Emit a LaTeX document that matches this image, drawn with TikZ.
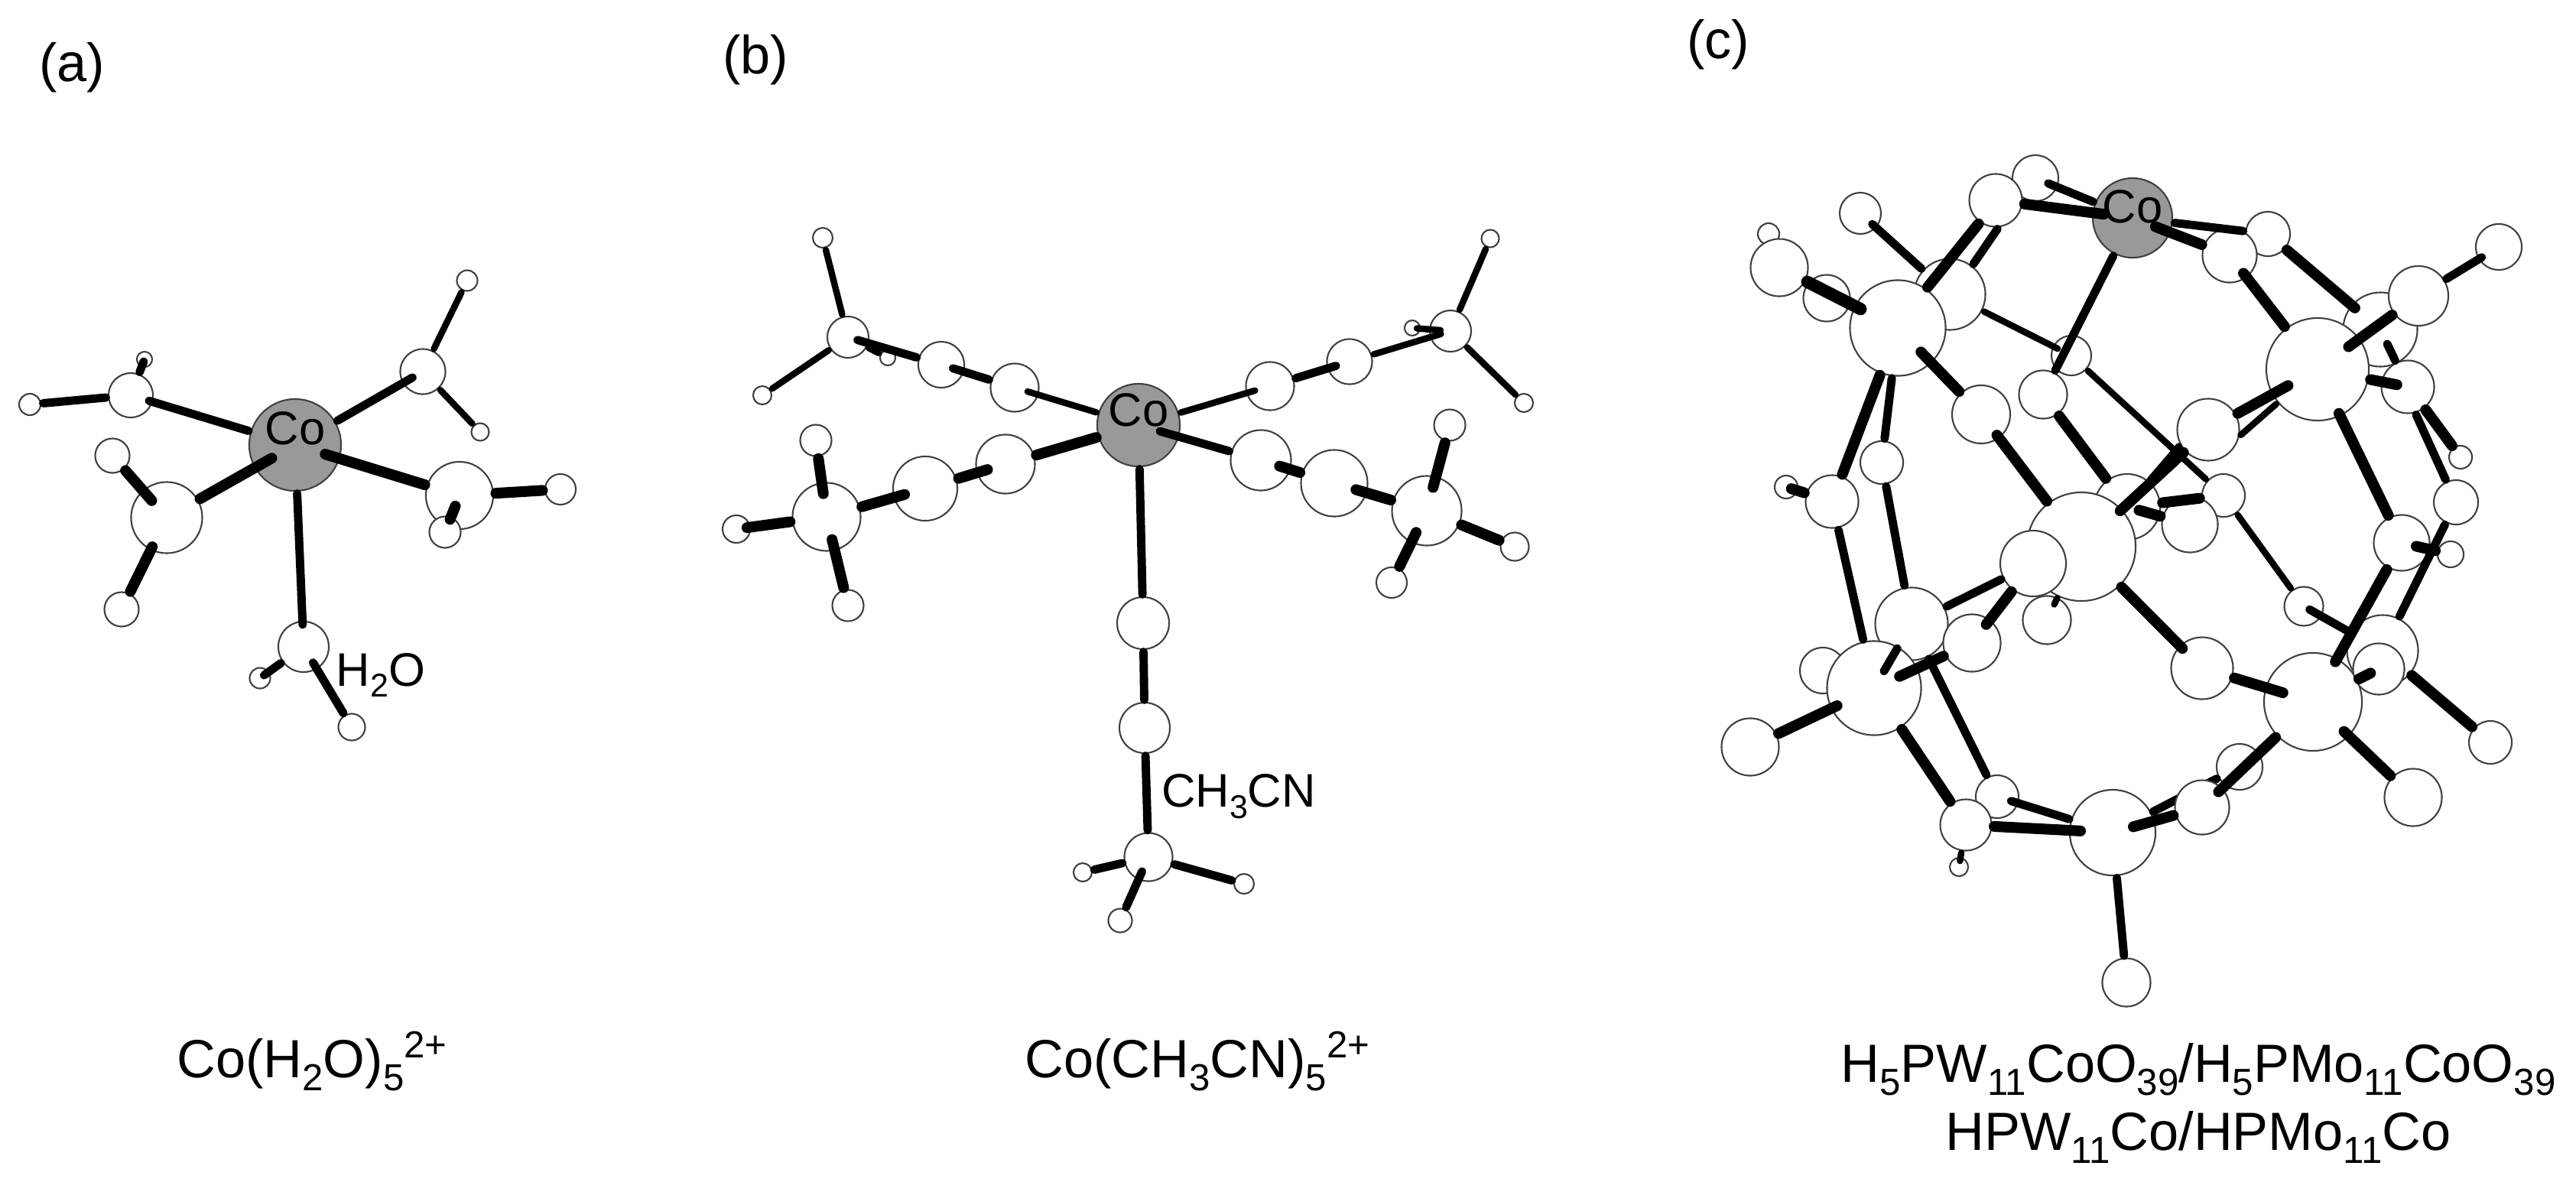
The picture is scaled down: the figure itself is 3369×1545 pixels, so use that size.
\documentclass[tikz,border=0pt]{standalone}
\usepackage{fontspec}
\setmainfont{Liberation Sans}
\tikzset{%
	atom/.style     = {draw=black!75, fill=white, circle, line width=0.6pt, inner sep=0pt},
	metal/.style    = {atom, fill=black!40, minimum size=#1},
	bond/.style     = {draw=black, line width=3.1pt, line cap=round, shorten <=0.25mm, shorten >=0.25mm},
	bondthin/.style = {bond, line width=2.4pt},
	bondfat/.style  = {bond, line width=4pt},
	endin/.style    = {shorten >=-#1},
	startin/.style  = {shorten <=-#1},
	panel/.style    = {font=\fontsize{20}{24}\selectfont, inner sep=0pt},
	tag/.style      = {font=\fontsize{17.5}{20}\selectfont, inner sep=0pt},
}
\newcommand{\low}[1]{\raisebox{-0.24em}{\scalebox{0.7}{#1}}}
\newcommand{\high}[1]{\raisebox{0.36em}{\scalebox{0.7}{#1}}}
\begin{document}
\begin{tikzpicture}[x=0.01cm,y=-0.01cm]
	\useasboundingbox (0,0) rectangle (3369,1545);

	\node[panel] (tagA) at (94,88) {(a)};
	\node[panel] (tagB) at (988,78) {(b)};
	\node[panel] (tagC) at (2247,58) {(c)};

	\node[metal=12mm] (coa) at (386,582) {};
	\node[tag] (coaText) at (386,560) {Co};
	\node[atom,minimum size=5.8mm] (oa1) at (171,517) {};
	\node[atom,minimum size=2.8mm] (ha1) at (39,529) {};
	\node[atom,minimum size=2mm] (ha2) at (189,470) {};
	\node[atom,minimum size=5.9mm] (oa2) at (553,486) {};
	\node[atom,minimum size=2.7mm] (ha3) at (611,367) {};
	\node[atom,minimum size=2.3mm] (ha4) at (628,565) {};
	\node[atom,minimum size=9.3mm] (oa3) at (218,677) {};
	\node[atom,minimum size=4.5mm] (ha5) at (147,596) {};
	\node[atom,minimum size=4.5mm] (ha6) at (159,797) {};
	\node[atom,minimum size=8.8mm] (oa4) at (601,648) {};
	\node[atom,minimum size=4mm] (ha7) at (733,640) {};
	\node[atom,minimum size=4.1mm] (ha8) at (582,696) {};
	\node[atom,minimum size=6.6mm] (oa5) at (397,846) {};
	\node[atom,minimum size=2.7mm] (ha9) at (340,887) {};
	\node[atom,minimum size=3.5mm] (ha10) at (460,951) {};

	\draw[bond,endin=0.5mm] (coa) -- (oa1);
	\draw[bond] (oa1) -- (ha1);
	\draw[bond,endin=0.8mm] (oa1) -- (ha2);
	\draw[bond,endin=1.5mm] (coa) -- (oa2);
	\draw[bondthin] (oa2) -- (ha3);
	\draw[bondthin] (oa2) -- (ha4);
	\draw[bondfat,startin=2.6mm] (coa) -- (oa3);
	\draw[bondfat,startin=1.8mm] (oa3) -- (ha5);
	\draw[bondfat,startin=0.5mm] (oa3) -- (ha6);
	\draw[bondfat,startin=2mm] (coa) -- (oa4);
	\draw[bondfat] (oa4) -- (ha7);
	\draw[bondfat,shorten <=1.5mm,shorten >=1.8mm] (oa4.center) -- (ha8.center);
	\draw[bond,endin=0.5mm] (coa) -- (oa5);
	\draw[bond,endin=0.8mm] (oa5) -- (ha9);
	\draw[bond,startin=1mm] (oa5) -- (ha10);

	\node[tag] (tagWater) at (498,883) {H\low{2}O};
	\node[panel] (nameA) at (408,1388) {Co(H\low{2}O)\low{5}\high{2+}};

	\node[metal=10.8mm] (cob) at (1489,556) {};
	\node[tag] (cobText) at (1489,536) {Co};
	\node[atom,minimum size=2mm] (hb3) at (1161,468) {};
	\node[atom,minimum size=6.3mm] (nb1) at (1327,507) {};
	\node[atom,minimum size=6mm] (cb1) at (1231,477) {};
	\node[atom,minimum size=5.4mm] (mb1) at (1109,441) {};
	\node[atom,minimum size=2.6mm] (hb1) at (1076,311) {};
	\node[atom,minimum size=2.4mm] (hb2) at (997,517) {};
	\node[atom,minimum size=2mm] (hb6) at (1847,429) {};
	\node[atom,minimum size=6.3mm] (nb2) at (1661,505) {};
	\node[atom,minimum size=5.9mm] (cb2) at (1765,473) {};
	\node[atom,minimum size=5.4mm] (mb2) at (1897,433) {};
	\node[atom,minimum size=2.3mm] (hb4) at (1949,312) {};
	\node[atom,minimum size=2.4mm] (hb5) at (1993,527) {};
	\node[atom,minimum size=7.7mm] (nb3) at (1315,607) {};
	\node[atom,minimum size=8.4mm] (cb3) at (1210,639) {};
	\node[atom,minimum size=8.9mm] (mb3) at (1081,676) {};
	\node[atom,minimum size=4.1mm] (hb7) at (1067,576) {};
	\node[atom,minimum size=3.6mm] (hb8) at (963,692) {};
	\node[atom,minimum size=4.1mm] (hb9) at (1109,792) {};
	\node[atom,minimum size=7.9mm] (nb4) at (1649,602) {};
	\node[atom,minimum size=8.7mm] (cb4) at (1745,632) {};
	\node[atom,minimum size=9.1mm] (mb4) at (1866,668) {};
	\node[atom,minimum size=4.1mm] (hb10) at (1896,556) {};
	\node[atom,minimum size=3.7mm] (hb11) at (1981,715) {};
	\node[atom,minimum size=4mm] (hb12) at (1820,762) {};
	\node[atom,minimum size=6.8mm] (nb5) at (1495,815) {};
	\node[atom,minimum size=6.6mm] (cb5) at (1497,952) {};
	\node[atom,minimum size=6.3mm] (mb5) at (1502,1121) {};
	\node[atom,minimum size=2.4mm] (hb13) at (1416,1141) {};
	\node[atom,minimum size=2.6mm] (hb14) at (1627,1156) {};
	\node[atom,minimum size=3.1mm] (hb15) at (1465,1204) {};

	\draw[bondthin,endin=1.5mm] (cob) -- (nb1);
	\draw[bond,endin=1.5mm] (nb1) -- (cb1);
	\draw[bond,endin=1.5mm] (cb1) -- (mb1);
	\draw[bondthin] (mb1) -- (hb3);
	\draw[bondthin] (mb1) -- (hb1);
	\draw[bondthin] (mb1) -- (hb2);
	\draw[bondthin,endin=1.2mm] (cob) -- (nb2);
	\draw[bond,endin=1.2mm] (nb2) -- (cb2);
	\draw[bondthin,endin=1.5mm] (cb2) -- (mb2);
	\draw[bondthin] (mb2) -- (hb4);
	\draw[bondthin] (mb2) -- (hb5);
	\draw[bondthin,startin=1.5mm,endin=0.5mm] (mb2) -- (hb6);
	\draw[bondfat] (cob) -- (nb3);
	\draw[bondfat,startin=1.5mm] (nb3) -- (cb3);
	\draw[bondfat,startin=1.5mm] (cb3) -- (mb3);
	\draw[bondfat,startin=1.5mm] (mb3) -- (hb7);
	\draw[bondfat,endin=0.5mm] (mb3) -- (hb8);
	\draw[bondfat,startin=1.5mm] (mb3) -- (hb9);
	\draw[bond,startin=2.6mm] (cob) -- (nb4);
	\draw[bondfat,startin=1.5mm] (nb4) -- (cb4);
	\draw[bondfat,startin=1.5mm] (cb4) -- (mb4);
	\draw[bondfat,startin=1.5mm] (mb4) -- (hb10);
	\draw[bondfat] (mb4) -- (hb11);
	\draw[bondfat,startin=1.5mm] (mb4) -- (hb12);
	\draw[bond] (cob) -- (nb5);
	\draw[bond] (nb5) -- (cb5);
	\draw[bond] (cb5) -- (mb5);
	\draw[bond] (mb5) -- (hb13);
	\draw[bond] (mb5) -- (hb14);
	\draw[bond,startin=1.2mm] (mb5) -- (hb15);

	\node[tag] (tagAcn) at (1620,1042) {CH\low{3}CN};
	\node[panel] (nameB) at (1566,1388) {Co(CH\low{3}CN)\low{5}\high{2+}};

	\node[metal=10.4mm] (coc) at (2789,285) {};
	\node[tag] (cocText) at (2789,270) {Co};
	\node[atom,minimum size=6mm] (oA) at (2662,233) {};
	\node[atom,minimum size=6.9mm] (oB) at (2610,262) {};
	\node[atom,minimum size=5.4mm] (oC) at (2433,279) {};
	\node[atom,minimum size=6.1mm] (oF) at (2389,390) {};
	\node[atom,minimum size=2.8mm] (oD) at (2313,306) {};
	\node[atom,minimum size=7.5mm] (oE) at (2327,350) {};
	\node[atom,minimum size=9.3mm] (oG) at (2550,385) {};
	\node[atom,minimum size=12.5mm] (wA) at (2482,429) {};
	\node[atom,minimum size=5.8mm] (oH) at (2966,306) {};
	\node[atom,minimum size=7.1mm] (oI) at (2916,334) {};
	\node[atom,minimum size=6mm] (oJ) at (3268,323) {};
	\node[atom,minimum size=9.7mm] (oL) at (3113,431) {};
	\node[atom,minimum size=7.8mm] (oK) at (3163,387) {};
	\node[atom,minimum size=13.4mm] (wB) at (3031,483) {};
	\node[atom,minimum size=6.9mm] (oM) at (3149,506) {};
	\node[atom,minimum size=3mm] (oN) at (3218,598) {};
	\node[atom,minimum size=5.8mm] (oO) at (3212,657) {};
	\node[atom,minimum size=3.4mm] (oQ) at (3205,725) {};
	\node[atom,minimum size=7.3mm] (oP) at (3141,710) {};
	\node[atom,minimum size=5.2mm] (oR) at (2709,465) {};
	\node[atom,minimum size=6.3mm] (oS) at (2672,516) {};
	\node[atom,minimum size=7.6mm] (oT) at (2591,542) {};
	\node[atom,minimum size=5.6mm] (oZ) at (2908,648) {};
	\draw[bondthin] (oR) -- (oZ);
	\node[atom,minimum size=8.1mm] (oU) at (2888,562) {};
	\node[atom,minimum size=5.6mm] (oV) at (2461,605) {};
	\node[atom,minimum size=6.9mm] (oW) at (2396,656) {};
	\node[atom,minimum size=3mm] (oX) at (2336,637) {};
	\node[atom,minimum size=8.6mm] (oY) at (2782,663) {};
	\node[atom,minimum size=7.3mm] (oAA) at (2864,686) {};
	\node[atom,minimum size=6.3mm] (oAC) at (2677,811) {};
	\node[atom,minimum size=14.2mm] (wC) at (2722,715) {};
	\node[atom,minimum size=8.6mm] (oAB) at (2659,737) {};
	\node[atom,minimum size=5.1mm] (oAD) at (3013,793) {};
	\node[atom,minimum size=9.5mm] (oAE) at (2500,816) {};
	\node[atom,minimum size=7.5mm] (oAF) at (2579,841) {};
	\node[atom,minimum size=6mm] (oAG) at (2384,877) {};
	\node[atom,minimum size=12.3mm] (wD) at (2451,900) {};
	\node[atom,minimum size=7.5mm] (oAH) at (2289,977) {};
	\node[atom,minimum size=8.1mm] (oAI) at (2880,874) {};
	\node[atom,minimum size=9.3mm] (oAJ) at (3116,851) {};
	\node[atom,minimum size=12.8mm] (wE) at (3025,918) {};
	\node[atom,minimum size=6.7mm] (oAK) at (3111,875) {};
	\node[atom,minimum size=5.6mm] (oAL) at (3257,971) {};
	\node[atom,minimum size=7.5mm] (oAM) at (3156,1043) {};
	\node[atom,minimum size=6mm] (oAN) at (2929,1003) {};
	\node[atom,minimum size=11.2mm] (wF) at (2763,1089) {};
	\draw[bond] (wF) -- (oAN);
	\node[atom,minimum size=7.1mm] (oAO) at (2880,1056) {};
	\node[atom,minimum size=5.6mm] (oAQ) at (2612,1042) {};
	\node[atom,minimum size=6.7mm] (oAR) at (2571,1079) {};
	\node[atom,minimum size=2.4mm] (oAS) at (2562,1134) {};
	\node[atom,minimum size=6.3mm] (oAT) at (2781,1285) {};

	\draw[bond,startin=1.3mm] (oA) -- (coc);
	\draw[bondfat,endin=1.5mm] (oB) -- (coc);
	\draw[bond] (oH) -- (coc);
	\draw[bondfat,endin=2.1mm] (oI) -- (coc);
	\draw[bond] (coc) -- (oS);
	\draw[bondthin,endin=0.7mm] (oG) -- (oR);
	\draw[bond,startin=0.7mm] (oC) -- (oG);
	\draw[bondfat] (oB.-126) -- (wA.54);
	\draw[bond] (oB.-84) -- (oG.52);
	\draw[bondfat,line width=4.6pt,endin=0.9mm] (oE) -- (wA);
	\draw[bondfat,startin=2mm] (wA) -- (oT);
	\draw[bondfat,startin=0.5mm] (oT) -- (wC);
	\draw[bondfat] (oS) -- (oY);
	\draw[bondthin] (oZ) -- (oAD);
	\draw[bond,startin=1.8mm] (oAD) -- (oAJ);
	\draw[bond,endin=0.5mm] (oK) -- (oJ);
	\draw[bondfat,endin=1.8mm] (oK) -- (wB);
	\draw[bondfat,endin=0.6mm] (oH) -- (oL);
	\draw[bondfat,startin=0.7mm] (oI) -- (wB);
	\draw[bondfat,endin=2.1mm] (wB) -- (oM);
	\draw[bond,shorten <=2.1mm] (oL.center) -- (oM);
	\draw[bondfat] (oM.-52) -- (oN);
	\draw[bond] (oM.-74) -- (oO);
	\draw[bond] (oO) -- (oAJ);
	\draw[bondfat,endin=0.5mm] (oP) -- (wE);
	\draw[bondfat,startin=0.4mm] (wB) -- (oP);
	\draw[bondfat,startin=1.8mm] (oP) -- (oQ);
	\draw[bondfat] (wA) -- (oW);
	\draw[bond] (wA) -- (oV);
	\draw[bondfat,endin=0.9mm] (oW) -- (oX);
	\draw[bond] (oW) -- (wD);
	\draw[bond] (oV) -- (oAE);
	\draw[bond,endin=2.3mm] (wD) -- (oAE);
	\draw[bondfat,startin=2.6mm] (wD) -- (oAF);
	\draw[bond] (oAE) -- (oAQ);
	\draw[bondfat] (wD) -- (oAR);
	\draw[bondfat,endin=0.9mm] (oAH) -- (wD);
	\draw[bond] (oAE) -- (oAB);
	\draw[bondfat,startin=0.8mm] (oAF) -- (oAB);
	\draw[bondfat,endin=1.5mm] (oAR) -- (wF);
	\draw[bond,startin=1mm] (oAQ) -- (wF);
	\draw[bondthin,endin=0.5mm] (oAR) -- (oAS);
	\draw[bondfat,startin=2.9mm] (wF) -- (oAO);
	\draw[bondfat,endin=0.7mm] (wE) -- (oAO);
	\draw[bondfat,endin=0.5mm] (wC) -- (oAI);
	\draw[bondfat,endin=2.4mm] (oAI) -- (wE);
	\draw[bondfat,startin=0.9mm] (wE) -- (oAM);
	\draw[bondfat,shorten <=6.7mm,shorten >=1.2mm] (wE.center) -- (oAK.center);
	\draw[bondfat] (oAJ) -- (oAL);
	\draw[bond] (wF) -- (oAT);
	\draw[bondfat,endin=2.4mm] (oU) -- (wB);
	\draw[bondthin] (oU.-12) -- (wB.220);
	\draw[bondfat,endin=0.3mm] (oU) -- (wC);
	\draw[bondthin] (oU.208) -- (oY.50);
	\draw[bondfat] (oY) -- (oZ);
	\draw[bondfat,shorten <=1.6mm] (oY.center) -- (oAA);
	\draw[bondthin,endin=1mm] (wC) -- (oAC);

	\node[panel,align=center,font=\fontsize{20}{25.3}\selectfont] (nameC) at (2875,1443) {H\low{5}PW\low{11}CoO\low{39}/H\low{5}PMo\low{11}CoO\low{39}\\HPW\low{11}Co/HPMo\low{11}Co};
\end{tikzpicture}
\end{document}
